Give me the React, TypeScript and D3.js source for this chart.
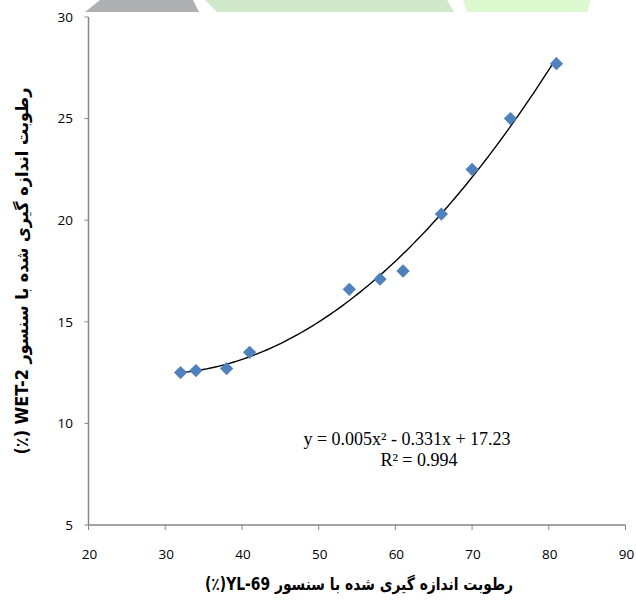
import React from "react";
import * as d3 from "d3";

const sensorYL69 = [32, 34, 38, 41, 54, 58, 61, 66, 70, 75, 81];
const sensorWET2 = [12.5, 12.6, 12.7, 13.5, 16.6, 17.1, 17.5, 20.3, 22.5, 25.0, 27.7];
const xTicks = [20, 30, 40, 50, 60, 70, 80, 90];
const yTicks = [5, 10, 15, 20, 25, 30];
const xTitle = "رطوبت اندازه گیری شده با سنسور YL-69(٪)";
const yTitle = "رطوبت اندازه گیری شده با سنسور WET-2 (٪)";
const eqLine1 = "y = 0.005x² - 0.331x + 17.23";
const eqLine2 = "R² = 0.994";

function polyFit2(xs: number[], ys: number[]) {
  // least squares fit y = a x^2 + b x + c
  const s = [0, 0, 0, 0, 0];
  const t = [0, 0, 0];
  xs.forEach((x, i) => {
    for (let k = 0; k < 5; k++) s[k] += Math.pow(x, k);
    for (let k = 0; k < 3; k++) t[k] += Math.pow(x, k) * ys[i];
  });
  const M = [
    [s[0], s[1], s[2], t[0]],
    [s[1], s[2], s[3], t[1]],
    [s[2], s[3], s[4], t[2]],
  ];
  for (let i = 0; i < 3; i++) {
    let p = i;
    for (let r = i + 1; r < 3; r++) if (Math.abs(M[r][i]) > Math.abs(M[p][i])) p = r;
    [M[i], M[p]] = [M[p], M[i]];
    for (let r = 0; r < 3; r++) {
      if (r === i) continue;
      const f = M[r][i] / M[i][i];
      for (let c = i; c < 4; c++) M[r][c] -= f * M[i][c];
    }
  }
  const c = M[0][3] / M[0][0];
  const b = M[1][3] / M[1][1];
  const a = M[2][3] / M[2][2];
  return (x: number) => a * x * x + b * x + c;
}

export default function App() {
  const W = 636;
  const H = 607;
  const x = d3.scaleLinear().domain([20, 90]).range([88.5, 625.5]);
  const y = d3.scaleLinear().domain([5, 30]).range([525, 17]);
  const fit = polyFit2(sensorYL69, sensorWET2);
  const xmin = d3.min(sensorYL69)!;
  const xmax = d3.max(sensorYL69)!;
  const samples = d3.range(0, 101).map((i) => xmin + ((xmax - xmin) * i) / 100);
  const line = d3
    .line<number>()
    .x((d) => x(d))
    .y((d) => y(fit(d)))
    .curve(d3.curveLinear);
  const diamond = d3.symbol(d3.symbolSquare, 88)()!;
  const axisColor = "#868686";
  const tickFont = "'Open Sans', 'Noto Sans', sans-serif";
  const serif = "'Liberation Serif', 'Times New Roman', serif";

  return (
    <svg
      width={W}
      height={H}
      style={{ position: "absolute", left: 0, top: 0, background: "#fff" }}
    >
      {/* decorative header shapes */}
      <polygon points="85,12 100,0 193,0 199,12" fill="#AEB0B3" />
      <polygon points="217,12 205,0 447,0 454,12" fill="#CFE8C8" />
      <polygon points="467,12 463,0 591,0 587,12" fill="#DCF8CF" />

      {/* axes */}
      <line x1={x(20)} x2={x(20)} y1={y(30)} y2={y(5)} stroke={axisColor} strokeWidth={1.5} />
      <line x1={x(20)} x2={x(90)} y1={y(5)} y2={y(5)} stroke={axisColor} strokeWidth={1.5} />
      {yTicks.map((t) => (
        <g key={"y" + t}>
          <line x1={x(20) - 4} x2={x(20)} y1={y(t)} y2={y(t)} stroke={axisColor} strokeWidth={1} />
          <text
            x={73}
            y={y(t)}
            dy="0.35em"
            textAnchor="end"
            fontFamily={tickFont}
            fontSize={13.5}
            fill="#000"
          >
            {t}
          </text>
        </g>
      ))}
      {xTicks.map((t) => (
        <g key={"x" + t}>
          <line x1={x(t)} x2={x(t)} y1={y(5)} y2={y(5) + 5} stroke={axisColor} strokeWidth={1} />
          <text
            x={x(t) + 1}
            y={554}
            dy="0.35em"
            textAnchor="middle"
            fontFamily={tickFont}
            fontSize={13.5}
            fill="#000"
          >
            {t}
          </text>
        </g>
      ))}

      {/* trendline */}
      <path d={line(samples)!} fill="none" stroke="#000" strokeWidth={1.4} />

      {/* points */}
      {sensorYL69.map((v, i) => (
        <path
          key={"p" + i}
          d={diamond}
          transform={`translate(${x(v)},${y(sensorWET2[i])}) rotate(45)`}
          fill="#4F81BD"
        />
      ))}

      {/* equation */}
      <text x={407} y={445} textAnchor="middle" fontFamily={serif} fontSize={18} fill="#000">
        {eqLine1}
      </text>
      <text x={419} y={466} textAnchor="middle" fontFamily={serif} fontSize={18} fill="#000">
        {eqLine2}
      </text>

      {/* axis titles */}
      <text
        x={359}
        y={590}
        textAnchor="middle"
        direction="rtl"
        fontFamily="'DejaVu Sans', sans-serif"
        fontWeight="bold"
        fontSize={17}
        textLength={308}
        lengthAdjust="spacingAndGlyphs"
        fill="#000"
      >
        {xTitle}
      </text>
      <text
        transform={`translate(28,271) rotate(-90)`}
        textAnchor="middle"
        direction="rtl"
        fontFamily="'DejaVu Sans', sans-serif"
        fontWeight="bold"
        fontSize={17}
        textLength={367}
        lengthAdjust="spacingAndGlyphs"
        fill="#000"
      >
        {yTitle}
      </text>
    </svg>
  );
}
